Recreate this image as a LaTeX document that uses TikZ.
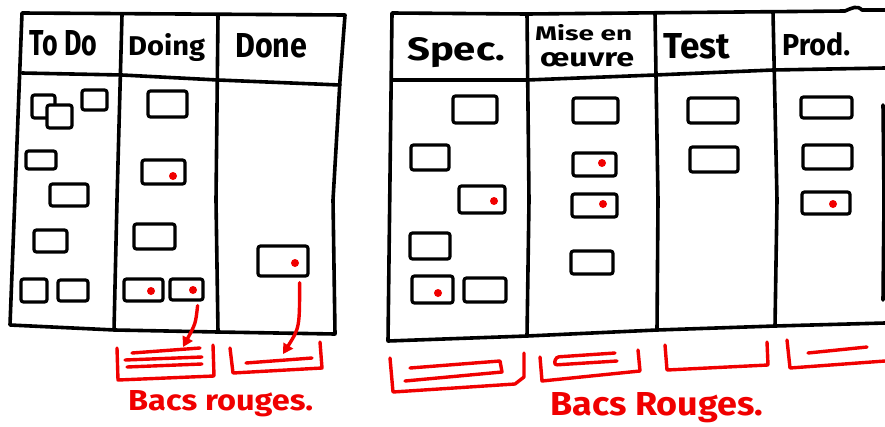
\documentclass[tikz,border=0pt]{standalone}
\usepackage{fontspec}
\setmainfont{Fira Sans}
\usepackage{graphicx}
\usetikzlibrary{fit,arrows.meta,calc}
\definecolor{marker}{RGB}{240,0,0}
\tikzset{
 frame/.style={line width=3.6pt, line cap=round, line join=round},
 card/.style={draw, fill=white, line width=3.2pt, rounded corners=2.5pt, inner sep=0pt},
 rdot/.style={circle, fill=marker, inner sep=0pt, minimum size=8pt},
 bin/.style={draw=marker, line width=3.4pt, line cap=round, line join=round},
 flow/.style={draw=marker, line width=3.4pt, line cap=round, -{Triangle[length=10pt,width=11pt]}},
 lbl/.style={anchor=base west, inner sep=0pt, font=\bfseries},
 rlbl/.style={lbl, text=marker},
}
\newcommand\hw[3]{\resizebox{#1pt}{#2pt}{#3}}
\newcommand\cardat[5]{\node[card, fit={(#2,#3) (#4,#5)}] (#1) {};}
\begin{document}
\begin{tikzpicture}[x=1pt,y=-1pt]
\fill[white] (0,0) rectangle (885,426);
\useasboundingbox (0,0) rectangle (885,426);

% ---------- left board ----------
\draw[frame] (22,13) -- (345,15) -- (340,80) -- (333,200) -- (335,334)
  -- (218,332) -- (115,330) -- (10,325) -- cycle;
\draw[frame] (22,73) -- (122,75) -- (218,80) -- (340,85);
\draw[frame] (122,15) -- (117,200) -- (114,330);
\draw[frame] (218,15) -- (216,200) -- (218,332);

\node[lbl] (hTodo) at (29,55) {\hw{68}{25}{To Do}};
\node[lbl] (hDoing) at (128,55) {\hw{77}{22}{Doing}};
\node[lbl] (hDone) at (235,57) {\hw{72}{24}{Done}};

\cardat{t1}{32}{95}{55}{118}
\cardat{t2}{47}{105}{72}{128}
\cardat{t3}{82}{90}{107}{110}
\cardat{t4}{26}{151}{56}{169}
\cardat{t5}{50}{184}{88}{206}
\cardat{t6}{34}{230}{67}{252}
\cardat{t7}{21}{279}{47}{302}
\cardat{t8}{58}{280}{88}{301}

\cardat{d1}{148}{91}{187}{117}
\cardat{d2}{142}{160}{185}{184}
\cardat{d3}{134}{224}{175}{249}
\cardat{d4}{124}{279}{163}{301}
\cardat{d5}{170}{279}{203}{300}
\node[rdot] (d2dot) at (173,176) {};
\node[rdot] (d4dot) at (151,291) {};
\node[rdot] (d5dot) at (193,290) {};

\cardat{n1}{258}{246}{308}{276}
\node[rdot] (n1dot) at (295,263) {};

% left bins
\draw[bin] (117,348) -- (118,380) -- (214,376) -- (213,345);
\draw[bin] (132,353) -- (200,348);
\draw[bin] (125,360) -- (202,357);
\draw[bin] (127,367) -- (202,364);
\coordinate (aA) at (183,347);
\draw[bin] (230,348) -- (233,373) -- (322,368) -- (320,342);
\draw[bin] (246,363) -- (312,358);
\coordinate (aB) at (283,354);

\draw[flow] ($(d5.south east)+(-7,4)$) .. controls ($(d5.south east)+(-9,22)$) .. (aA);
\draw[flow] ($(n1.south east)+(-10,5)$) .. controls ($(n1.south east)+(-10,50)$) .. (aB);

\node[rlbl] (lblL) at (128,410) {\hw{185}{20}{Bacs rouges.}};

% ---------- right board ----------
\draw[frame] (885,10) -- (862,10) .. controls (857,5) and (852,8) .. (845,11)
  -- (527,14) -- (392,13) -- (388,341) -- (527,336) -- (657,330) -- (775,326) -- (885,323);
\draw[frame] (392,80) -- (527,80) -- (655,75) -- (773,70) -- (885,68);
\draw[frame] (527,14) -- (529,200) -- (527,336);
\draw[frame] (655,13) -- (658,200) -- (657,330);
\draw[frame] (773,12) -- (777,200) -- (775,326);
\draw[frame] (883,105) -- (884,200) -- (883,300);

\node[lbl] (hSpec) at (407,60) {\hw{98}{23}{Spec.}};
\node[lbl] (hMise) at (535,40) {\hw{97}{16}{Mise en}};
\node[lbl] (hOeuvre) at (540,66) {\hw{94}{14}{œuvre}};
\node[lbl] (hTest) at (663,58) {\hw{67}{25}{Test}};
\node[lbl] (hProd) at (782,55) {\hw{68}{23}{Prod.}};

\cardat{s1}{453}{96}{497}{123}
\cardat{s2}{411}{145}{449}{170}
\cardat{s3}{459}{186}{505}{213}
\cardat{s4}{410}{233}{450}{259}
\cardat{s5}{412}{276}{453}{303}
\cardat{s6}{464}{278}{506}{302}
\node[rdot] (s3dot) at (494,201) {};
\node[rdot] (s5dot) at (438,293) {};

\cardat{m1}{573}{98}{618}{123}
\cardat{m2}{573}{153}{616}{176}
\cardat{m3}{572}{194}{617}{217}
\cardat{m4}{571}{251}{613}{274}
\node[rdot] (m2dot) at (602,163) {};
\node[rdot] (m3dot) at (603,204) {};

\cardat{e1}{688}{98}{738}{123}
\cardat{e2}{690}{147}{738}{172}

\cardat{p1}{801}{97}{852}{118}
\cardat{p2}{803}{145}{852}{169}
\cardat{p3}{802}{192}{850}{214}
\node[rdot] (p3dot) at (833,204) {};

% right bins
\draw[bin] (390,358) -- (393,392) -- (515,384) -- (524,377) -- (524,353);
\draw[bin] (410,368) -- (500,361) -- (502,372) -- (405,381);
\draw[bin] (540,357) -- (542,381) -- (640,371) -- (638,350);
\draw[bin, rounded corners=3pt] (615,353) -- (556,357) -- (554,365) -- (617,361);
\draw[bin] (665,345) -- (667,370) -- (768,365) -- (767,342);
\draw[bin] (787,340) -- (790,368) -- (885,361);
\draw[bin] (808,353) -- (867,347);

\node[rlbl] (lblR) at (550,415) {\hw{213}{23}{Bacs Rouges.}};
\end{tikzpicture}
\end{document}
